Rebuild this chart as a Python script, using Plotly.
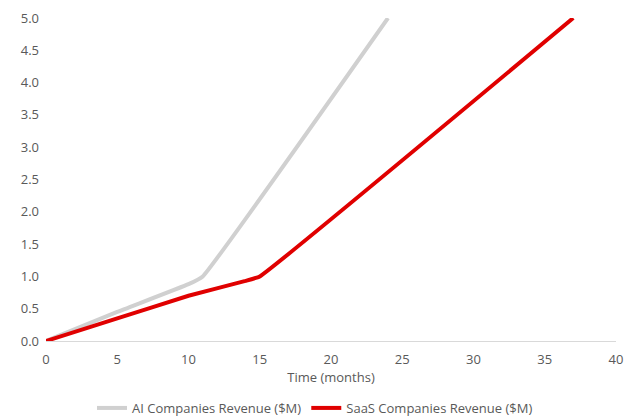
import plotly.graph_objects as go

ai_months = [0, 5, 10, 11, 24]
ai_revenue = [0, 0.45, 0.88, 1.0, 5.0]
saas_months = [0, 5, 10, 14, 15, 37]
saas_revenue = [0, 0.35, 0.7, 0.93, 1.0, 5.0]

font_fam = "Open Sans, Noto Sans, sans-serif"
txt = "#595959"

fig = go.Figure()
fig.add_trace(go.Scatter(x=ai_months, y=ai_revenue, mode="lines",
                         name="AI Companies Revenue ($M)",
                         line=dict(color="#D0D0D0", width=4, shape="spline", smoothing=0.3)))
fig.add_trace(go.Scatter(x=saas_months, y=saas_revenue, mode="lines",
                         name="SaaS Companies Revenue ($M)",
                         line=dict(color="#E00000", width=4, shape="spline", smoothing=0.3)))

fig.update_layout(
    width=630, height=418,
    margin=dict(l=46, r=14, t=18, b=77, autoexpand=False),
    paper_bgcolor="white", plot_bgcolor="white",
    font=dict(family=font_fam, size=13, color=txt),
    showlegend=True,
    legend=dict(orientation="h", x=0.5, xanchor="center", xref="container",
                y=0.024, yanchor="middle", yref="container",
                font=dict(size=13, color=txt), traceorder="normal"),
    xaxis=dict(range=[0, 40], dtick=5, showgrid=False, zeroline=False, automargin=False,
               showline=True, linecolor="#D9D9D9", linewidth=1, ticks="",
               ticklabelstandoff=6,
               title=dict(text="Time (months)", font=dict(size=13, color=txt), standoff=2),
               tickfont=dict(size=13, color=txt)),
    yaxis=dict(range=[0, 5], dtick=0.5, tickformat=".1f", showgrid=False, zeroline=False,
               automargin=False, showline=False, ticks="", ticklabelstandoff=6,
               tickfont=dict(size=13, color=txt)),
)
fig.write_html("out.html")
